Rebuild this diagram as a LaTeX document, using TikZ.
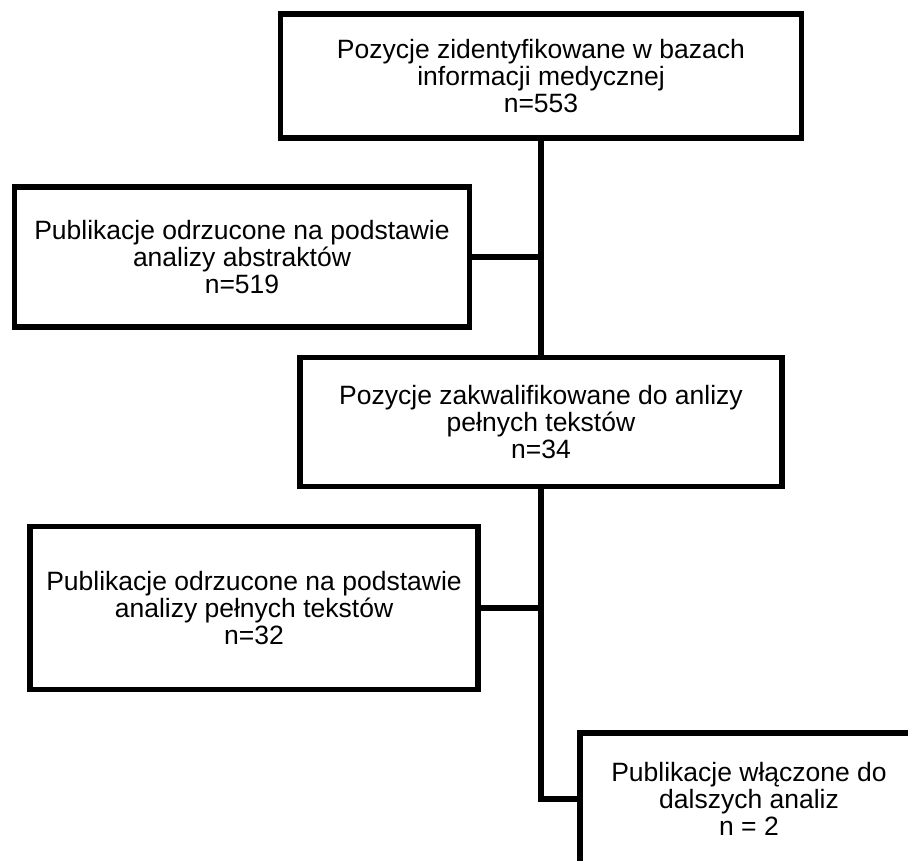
\documentclass[tikz,border=0pt]{standalone}
\usepackage{fontspec}
\setmainfont{Liberation Sans}
\begin{document}
\begin{tikzpicture}[x=1pt,y=-1pt,
    stagebox/.style={draw,line width=5.5pt,inner sep=0pt,align=center,
      font=\fontsize{26.5}{27}\selectfont},
    link/.style={line width=5.5pt}]
\useasboundingbox (0,0) rectangle (908,860);
\clip (0,0) rectangle (908,860);
% boxes
\node[stagebox,minimum width=521pt,minimum height=124pt] (ident) at (541,76)
  {Pozycje zidentyfikowane w bazach\\informacji medycznej\\n=553};
\node[stagebox,minimum width=455pt,minimum height=140pt] (odrz1) at (242,257)
  {Publikacje odrzucone na podstawie\\analizy abstraktów\\n=519};
\node[stagebox,minimum width=482pt,minimum height=129pt] (kwal) at (541,422)
  {Pozycje zakwalifikowane do anlizy\\pełnych tekstów\\n=34};
\node[stagebox,minimum width=448pt,minimum height=163pt] (odrz2) at (254,608)
  {Publikacje odrzucone na podstawie\\analizy pełnych tekstów\\n=32};
\node[stagebox,minimum width=338pt,minimum height=132pt] (wlacz) at (749,799)
  {Publikacje włączone do\\dalszych analiz\\n = 2};
% connectors
\draw[link] (ident.south) -- (kwal.north);
\draw[link] (odrz1.east) -- (odrz1.east -| ident.south);
\coordinate (zag) at (kwal.south |- wlacz.west);
\draw[link] (kwal.south) -- (zag) -- (wlacz.west);
\draw[link] (odrz2.east) -- (odrz2.east -| kwal.south);
\end{tikzpicture}
\end{document}
